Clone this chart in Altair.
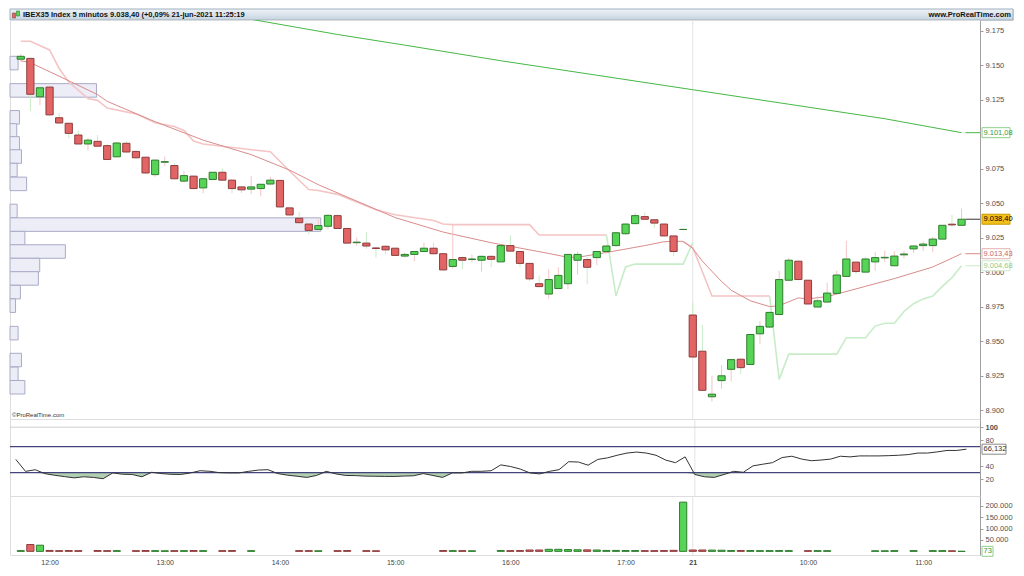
import json
import altair as alt
import pandas as pd

FONT = "Liberation Sans"

# ---------------- data ----------------
bar_index = list(range(99))
opens = [9154.3, 9154.9, 9127.1, 9134.1, 9111.9, 9107.9, 9099.4, 9092.9, 9094.8, 9091.7,
         9083.6, 9093.4, 9087.5, 9083.3, 9070.7, 9079.7, 9077.3, 9066.0, 9069.6, 9061.1,
         9067.2, 9072.4, 9066.7, 9061.8, 9060.2, 9060.6, 9063.9, 9066.5, 9046.6, 9039.1,
         9034.9, 9031.0, 9033.3, 9041.0, 9031.7, 9021.4, 9021.1, 9017.6, 9018.8, 9017.4,
         9011.7, 9012.9, 9015.0, 9017.4, 9013.4, 9004.2, 9010.6, 9009.2, 9008.7, 9011.5,
         9007.5, 9019.3, 9015.0, 9006.4, 8991.7, 8984.2, 8988.2, 8991.7, 9008.7, 9009.2,
         9010.6, 9015.0, 9019.3, 9027.9, 9035.2, 9040.3, 9038.0, 9034.9, 9026.3, 9031.0,
         8969.0, 8942.8, 8909.8, 8921.5, 8929.7, 8937.0, 8933.2, 8955.4, 8960.3, 8969.4,
         8994.2, 9008.0, 8994.2, 8974.8, 8978.4, 8984.7, 8997.0, 9007.3, 9000.1, 9007.5,
         9010.4, 9004.7, 9012.6, 9016.9, 9019.3, 9019.3, 9024.0, 9034.8, 9034.0]
highs = [9158.2, 9155.3, 9133.8, 9134.5, 9115.4, 9108.3, 9102.7, 9097.1, 9099.4, 9092.9,
         9094.3, 9094.8, 9088.0, 9083.8, 9081.7, 9083.8, 9078.9, 9073.3, 9070.1, 9068.0,
         9072.6, 9075.2, 9067.0, 9062.4, 9069.6, 9064.1, 9069.1, 9067.0, 9047.0, 9043.8,
         9035.4, 9038.2, 9041.9, 9041.7, 9031.9, 9025.1, 9029.3, 9018.2, 9019.6, 9017.9,
         9014.3, 9015.4, 9021.4, 9021.4, 9013.6, 9034.3, 9011.5, 9012.9, 9012.2, 9012.2,
         9019.6, 9026.8, 9015.4, 9006.6, 8997.7, 9002.2, 9003.6, 9013.3, 9015.0, 9011.0,
         9015.4, 9019.6, 9029.1, 9035.4, 9043.1, 9043.3, 9038.5, 9035.4, 9026.6, 9031.0,
         8977.9, 8961.9, 8925.0, 8932.8, 8937.2, 8937.5, 8955.4, 8964.7, 8971.6, 9001.2,
         9010.3, 9008.4, 8994.7, 8982.6, 8992.4, 9001.2, 9022.8, 9007.7, 9010.8, 9014.6,
         9015.7, 9015.3, 9015.7, 9019.3, 9022.3, 9025.6, 9034.3, 9041.5, 9046.1]
lows = [9152.5, 9116.8, 9121.0, 9113.3, 9107.6, 9097.1, 9092.5, 9088.2, 9090.8, 9081.0,
        9083.1, 9086.6, 9082.4, 9071.2, 9069.1, 9077.0, 9067.3, 9064.9, 9059.9, 9057.1,
        9067.0, 9066.3, 9057.3, 9057.3, 9056.6, 9055.0, 9063.5, 9047.0, 9041.0, 9035.4,
        9027.5, 9030.5, 9031.2, 9031.2, 9020.7, 9019.3, 9016.9, 9010.6, 9012.9, 9011.5,
        9010.8, 9008.0, 9014.7, 9012.9, 9001.4, 9002.8, 9002.2, 9007.3, 9000.5, 9003.6,
        9007.3, 9015.0, 9003.6, 8993.5, 8989.1, 8980.7, 8987.7, 8987.7, 8998.2, 8991.2,
        9005.2, 9013.4, 9018.6, 9027.0, 9034.7, 9037.8, 9032.1, 9025.9, 9011.7, 9031.0,
        8938.2, 8914.0, 8906.3, 8915.6, 8921.0, 8926.2, 8933.0, 8947.9, 8959.6, 8968.7,
        8994.0, 8994.3, 8976.8, 8974.7, 8977.9, 8984.2, 8996.5, 8998.9, 8999.6, 9001.2,
        9007.5, 9004.5, 9010.1, 9013.9, 9015.3, 9014.6, 9023.8, 9032.6, 9033.7]
closes = [9156.4, 9128.9, 9133.6, 9114.0, 9108.1, 9100.6, 9092.9, 9095.7, 9091.3, 9081.7,
          9093.6, 9087.1, 9082.9, 9071.9, 9081.2, 9080.1, 9067.7, 9070.0, 9060.6, 9067.7,
          9072.4, 9066.7, 9060.6, 9059.7, 9061.8, 9063.7, 9066.7, 9047.3, 9041.5, 9035.9,
          9030.3, 9033.8, 9041.2, 9031.7, 9021.1, 9021.8, 9019.0, 9017.2, 9016.2, 9012.2,
          9012.9, 9015.0, 9017.4, 9013.4, 9001.7, 9009.2, 9008.7, 9009.6, 9011.5, 9009.4,
          9019.3, 9015.3, 9006.4, 8995.2, 8989.6, 8994.7, 8997.7, 9012.9, 9012.9, 9003.6,
          9015.0, 9019.0, 9028.6, 9034.9, 9041.0, 9038.4, 9035.6, 9026.3, 9015.0, 9031.0,
          8938.6, 8914.5, 8911.7, 8925.0, 8936.7, 8930.9, 8954.9, 8960.8, 8970.9, 8994.7,
          9008.7, 8994.7, 8977.0, 8979.3, 8984.9, 8998.0, 9009.6, 9000.5, 9009.6, 9010.6,
          9010.8, 9011.7, 9013.2, 9019.0, 9020.4, 9024.0, 9034.0, 9034.3, 9038.4]
volumes = [3000, 30000, 27000, 4000, 3000, 3500, 3000, 0, 3500, 3000,
           3000, 0, 3000, 3500, 3000, 2500, 3000, 3000, 3500, 3000,
           0, 3000, 3500, 0, 3000, 0, 0, 0, 0, 3000,
           3000, 2500, 0, 3000, 3500, 0, 3000, 2500, 0, 0,
           0, 0, 0, 0, 3500, 3000, 3000, 2500, 0, 0,
           3500, 3000, 3500, 6000, 6000, 9000, 9000, 8000, 7000, 6500,
           6000, 4000, 4000, 3500, 3500, 3000, 3000, 3500, 4500, 216000,
           6000, 6000, 5500, 5000, 3500, 3500, 3500, 3000, 3000, 3500,
           3000, 0, 3000, 3000, 3000, 0, 0, 0, 0, 2500,
           2500, 3000, 0, 3000, 0, 3000, 3000, 2500, 73]
rsi_values = [50.4, 32.0, 34.5, 28.5, 26.0, 24.0, 22.0, 23.7, 22.7, 20.7,
              29.6, 27.6, 27.2, 23.7, 30.6, 28.6, 27.5, 27.2, 29.6, 33.0,
              32.1, 30.0, 29.6, 29.6, 32.0, 34.0, 34.6, 28.6, 26.2, 24.5,
              22.7, 25.7, 32.1, 28.1, 25.7, 25.5, 24.7, 24.5, 24.3, 24.2,
              24.8, 25.2, 28.6, 25.7, 22.7, 29.6, 29.6, 32.1, 32.1, 33.0,
              42.0, 39.5, 35.6, 29.6, 28.1, 32.0, 34.6, 46.9, 46.4, 41.5,
              50.4, 52.8, 56.8, 60.2, 61.7, 60.2, 56.8, 49.4, 45.4, 54.3,
              27.2, 23.7, 22.7, 27.2, 32.1, 30.6, 40.5, 43.0, 45.4, 53.3,
              55.3, 51.0, 48.4, 49.4, 50.9, 55.3, 54.3, 55.8, 55.8, 55.8,
              56.2, 56.8, 57.8, 60.2, 60.2, 62.0, 64.2, 64.2, 66.132]

sma_long_idx = [24, 33, 40, 50, 60, 70, 80, 90, 98]
sma_long_val = [9183.2, 9172.2, 9164.5, 9153.2, 9142.7, 9132.2, 9121.7, 9111.2, 9101.08]

sma_mid_idx = [0, 1, 4, 8, 9, 14, 19, 24, 28, 31, 35, 39, 44, 49, 55, 57, 58, 61, 65, 67, 68, 69,
               70, 71, 73, 74, 76, 78, 79, 81, 82, 84, 85, 88, 91, 95, 98]
sma_mid_val = [9153.2, 9151.8, 9142.0, 9128.7, 9123.8, 9109.0, 9095.7, 9085.2, 9074.0, 9063.4,
               9051.5, 9039.6, 9029.1, 9021.4, 9013.6, 9010.8, 9010.8, 9014.3, 9019.3, 9022.1,
               9022.4, 9022.4, 9017.2, 9008.0, 8993.3, 8987.0, 8979.3, 8975.1, 8975.8, 8981.4,
               8980.7, 8982.4, 8984.2, 8989.8, 8995.4, 9003.8, 9013.43]

stop_a_idx = [0, 1, 3, 4, 5, 7, 8, 9, 12, 14, 16, 17, 18, 19, 25, 26, 28, 30, 31, 33, 35, 37,
              39, 43, 44, 45, 53, 54, 61]
stop_a_val = [9167.3, 9167.3, 9161.0, 9147.6, 9137.8, 9125.9, 9124.5, 9118.9, 9114.7, 9108.3,
              9105.5, 9102.7, 9095.0, 9092.9, 9088.0, 9087.3, 9073.3, 9059.9, 9059.2, 9056.4,
              9050.8, 9045.2, 9041.7, 9037.5, 9034.9, 9034.5, 9034.5, 9027.0, 9027.0]
stop_b_idx = [61, 62, 63, 64, 69, 70]
stop_b_val = [9027.0, 8982.8, 9003.8, 9005.9, 9005.9, 9021.4]
stop_c_idx = [69, 70, 72, 78]
stop_c_val = [9022.1, 9017.9, 8982.8, 8982.8]
stop_d_idx = [78, 79, 80, 85, 86, 88, 89, 90, 91, 92, 93, 94, 95, 96, 97, 98]
stop_d_val = [8982.8, 8922.4, 8940.7, 8940.7, 8952.6, 8952.6, 8961.0, 8963.1, 8963.1, 8971.6,
              8977.2, 8980.7, 8982.8, 8989.8, 8996.1, 9004.68]

profile_price = [9151.5, 9131.7, 9112.2, 9102.7, 9093.3, 9083.8, 9074.0, 9064.0, 9044.4, 9034.5,
                 9024.7, 9015.0, 9005.2, 8995.5, 8985.6, 8975.8, 8955.9, 8936.4, 8926.4, 8916.7]
profile_volume = [6, 64, 7, 5, 7, 8.5, 5.3, 12.3, 5.3, 230, 11, 41, 22, 21, 7.7, 4.1, 6, 8.5, 6, 11]

time_tick_idx = [3, 15, 27, 39, 51, 63, 70, 82, 94]
time_tick_lbl = ["12:00", "13:00", "14:00", "15:00", "16:00", "17:00", "21", "10:00", "11:00"]
price_ticks = [8900, 8925, 8950, 8975, 9000, 9025, 9050, 9075, 9125, 9150, 9175]
rsi_ticks = [20, 40, 80, 100]
vol_ticks = [50000, 100000, 150000, 200000]
day_start = 70

header_left = "IBEX35 Index 5 minutos 9.038,40 (+0,09% 21-jun-2021 11:25:19"
header_right = "www.ProRealTime.com"

# ---------------- layout / style ----------------
W = 970
HH, HP, HR, HV = 11, 399, 77, 59
GREEN_FILL, GREEN_EDGE, GREEN_WICK = "#55d455", "#2f7d2f", "#4a6e4a"
RED_FILL, RED_EDGE, RED_WICK = "#e36464", "#8e3d3d", "#7a4a4a"

xs = alt.Scale(domain=[-0.6, 99.4], nice=False, zero=False)
ps = alt.Scale(domain=[8893.7, 9182.7], nice=False, zero=False)
rs = alt.Scale(domain=[-5.9, 112.6], nice=False, zero=False)
vs = alt.Scale(domain=[-16000, 243000], nice=False, zero=False)

axis_style = dict(title=None, grid=False, domainColor="#a0a0a0", tickColor="#a0a0a0", tickSize=3,
                  labelFont=FONT, labelFontSize=7.5, labelColor="#505050", labelPadding=2,
                  labelOverlap=False, labelFlush=False)
dot_fmt = "replace(format(datum.value, ',.0f'), ',', '.')"
price_axis = alt.Axis(orient="right", values=price_ticks, labelExpr=dot_fmt, **axis_style)
rsi_axis = alt.Axis(orient="right", values=rsi_ticks,
                    labelFontWeight={"condition": {"test": "datum.value == 100", "value": "bold"}, "value": "normal"},
                    **axis_style)
vol_axis = alt.Axis(orient="right", values=vol_ticks, labelExpr=dot_fmt, **axis_style)
noX = alt.X("i:Q", scale=xs, axis=None)
time_axis = alt.Axis(orient="bottom", values=time_tick_idx,
                     labelExpr="%s[indexof(%s, datum.value)]" % (json.dumps(time_tick_lbl), json.dumps(time_tick_idx)),
                     title=None, grid=False, domain=False, ticks=False, labelFont=FONT, labelFontSize=7,
                     labelColor="#444444", labelPadding=3, labelOverlap=False, labelFlush=False,
                     labelFontWeight={"condition": {"test": "datum.value == %d" % day_start, "value": "bold"}, "value": "normal"})
timeX = alt.X("i:Q", scale=xs, axis=time_axis)

candles = pd.DataFrame({"i": bar_index, "o": opens, "h": highs, "l": lows, "c": closes, "v": volumes})
candles["dir"] = ["up" if c >= o else "down" for o, c in zip(opens, closes)]
dir_fill = alt.Scale(domain=["up", "down"], range=[GREEN_FILL, RED_FILL])
dir_edge = alt.Scale(domain=["up", "down"], range=[GREEN_EDGE, RED_EDGE])
dir_wick = alt.Scale(domain=["up", "down"], range=[GREEN_WICK, RED_WICK])


def tag(val, text, fill, stroke, tcolor, yscale, yaxis, width=28):
    df = pd.DataFrame({"v": [val], "t": [text]})
    base = alt.Chart(df)
    box = base.mark_rect(fill=fill, stroke=stroke, strokeWidth=1, yOffset=-5, y2Offset=5).encode(
        x=alt.value(W + 2), x2=alt.value(W + 2 + width),
        y=alt.Y("v:Q", scale=yscale, axis=yaxis), y2="v:Q")
    lab = base.mark_text(align="left", baseline="middle", font=FONT, fontSize=7.5, color=tcolor).encode(
        x=alt.value(W + 3.5), y=alt.Y("v:Q", scale=yscale, axis=yaxis), text="t:N")
    return [box, lab]


def connector(val, color):
    df = pd.DataFrame({"i": [bar_index[-1] + 0.4], "v": [val]})
    return alt.Chart(df).mark_rule(color=color, strokeWidth=1).encode(
        x=noX, x2=alt.value(W), y=alt.Y("v:Q", scale=ps, axis=price_axis))


# ---------------- header ----------------
hdr_df = pd.DataFrame({"l": [header_left], "r": [header_right]})
hdr_bg = alt.Chart(hdr_df).mark_rect(
    fill=alt.LinearGradient(gradient="linear", x1=0, y1=0, x2=0, y2=1,
                            stops=[alt.GradientStop(color="#eef3f7", offset=0),
                                   alt.GradientStop(color="#c6d4df", offset=1)]),
    stroke="#9fb0bf", strokeWidth=1).encode(
    x=alt.value(0), x2=alt.value(W + 33), y=alt.value(0), y2=alt.value(HH))
icon_r = alt.Chart(hdr_df).mark_rect(fill=RED_FILL, stroke=RED_EDGE, strokeWidth=0.6).encode(
    x=alt.value(2.5), x2=alt.value(5.5), y=alt.value(4), y2=alt.value(9))
icon_g = alt.Chart(hdr_df).mark_rect(fill=GREEN_FILL, stroke=GREEN_EDGE, strokeWidth=0.6).encode(
    x=alt.value(6.5), x2=alt.value(9.5), y=alt.value(2), y2=alt.value(7))
hdr_l = alt.Chart(hdr_df).mark_text(align="left", baseline="middle", font=FONT, fontSize=7.5,
                                    fontWeight="bold", color="#111111").encode(
    x=alt.value(13), y=alt.value(HH / 2 + 0.5), text="l:N")
hdr_r = alt.Chart(hdr_df).mark_text(align="right", baseline="middle", font=FONT, fontSize=7.5,
                                    fontWeight="bold", color="#111111").encode(
    x=alt.value(W + 31), y=alt.value(HH / 2 + 0.5), text="r:N")
header = alt.layer(hdr_bg, icon_r, icon_g, hdr_l, hdr_r).properties(width=W + 33, height=HH)

# ---------------- price panel ----------------
prof_df = pd.DataFrame({"p": profile_price, "pv": profile_volume})
prof = alt.Chart(prof_df).transform_calculate(
    lo="datum.p - 4.9", hi="datum.p + 4.9", z="0").mark_rect(
    fill="#ededf7", stroke="#a9abc6", strokeWidth=1).encode(
    x=alt.X("z:Q", scale=alt.Scale(domain=[0, 718], nice=False, zero=False), axis=None),
    x2="pv:Q",
    y=alt.Y("lo:Q", scale=ps, axis=price_axis), y2="hi:Q")

sep_df = pd.DataFrame({"i": [day_start]})
sep_price = alt.Chart(sep_df).mark_rule(color="#e3e3e3", strokeWidth=1).encode(x=noX)

long_df = pd.DataFrame({"i": sma_long_idx, "v": sma_long_val})
sma_long = alt.Chart(long_df).mark_line(color="#45b845", strokeWidth=1, clip=True).encode(
    x=noX, y=alt.Y("v:Q", scale=ps, axis=price_axis))

rows = []
for seg, kind, ii, vv in [("a", "pink", stop_a_idx, stop_a_val), ("b", "green", stop_b_idx, stop_b_val),
                          ("c", "pink", stop_c_idx, stop_c_val), ("d", "green", stop_d_idx, stop_d_val)]:
    for a, b in zip(ii, vv):
        rows.append({"seg": seg, "kind": kind, "i": a, "v": b})
stop_df = pd.DataFrame(rows)
stop_line = alt.Chart(stop_df).mark_line(strokeWidth=1.6, clip=True).encode(
    x=noX, y=alt.Y("v:Q", scale=ps, axis=price_axis), detail="seg:N",
    color=alt.Color("kind:N", scale=alt.Scale(domain=["pink", "green"], range=["#f5c4c4", "#c8ecc8"]), legend=None))

mid_df = pd.DataFrame({"i": sma_mid_idx, "v": sma_mid_val})
sma_mid = alt.Chart(mid_df).mark_line(color="#d98c8c", strokeWidth=1, clip=True).encode(
    x=noX, y=alt.Y("v:Q", scale=ps, axis=price_axis))

wicks = alt.Chart(candles).mark_rule(strokeWidth=1, clip=True).encode(
    x=noX, y=alt.Y("l:Q", scale=ps, axis=price_axis), y2="h:Q",
    color=alt.Color("dir:N", scale=dir_wick, legend=None))
bodies = alt.Chart(candles).mark_bar(width=7.2, strokeWidth=1, clip=True).encode(
    x=noX, y=alt.Y("o:Q", scale=ps, axis=price_axis), y2="c:Q",
    fill=alt.Fill("dir:N", scale=dir_fill, legend=None),
    stroke=alt.Stroke("dir:N", scale=dir_edge, legend=None))

copy_df = pd.DataFrame({"t": ["\u00a9ProRealTime.com"]})
copyright = alt.Chart(copy_df).mark_text(align="left", baseline="middle", font=FONT, fontSize=6,
                                         color="#333333").encode(
    x=alt.value(2), y=alt.value(HP - 4), text="t:N")

price_tags = (tag(sma_long_val[-1], "9.101,08", "#ffffff", "#8fcf8f", "#3a9a3a", ps, price_axis)
              + tag(closes[-1], "9.038,40", "#f2c21b", "#c89a00", "#000000", ps, price_axis)
              + tag(sma_mid_val[-1], "9.013,43", "#ffffff", "#e6b0b0", "#c46a6a", ps, price_axis)
              + tag(stop_d_val[-1], "9.004,68", "#ffffff", "#cbe8cb", "#8ccc8c", ps, price_axis))

inner = alt.layer(sep_price, sma_long, stop_line, sma_mid,
                  connector(sma_long_val[-1], "#45b845"), connector(closes[-1], "#333333"),
                  connector(sma_mid_val[-1], "#d98c8c"), connector(stop_d_val[-1], "#c8ecc8"),
                  wicks, bodies, *price_tags, copyright)
price = alt.layer(prof, inner).resolve_scale(x="independent").properties(width=W, height=HP)

# ---------------- RSI panel ----------------
rsi_df = pd.DataFrame({"i": bar_index, "r": rsi_values})
sep_rsi = alt.Chart(sep_df).mark_rule(color="#e3e3e3", strokeWidth=1).encode(x=noX)
lvl100 = alt.Chart(pd.DataFrame({"lv": [100]})).mark_rule(color="#cfcfcf", strokeWidth=1).encode(
    y=alt.Y("lv:Q", scale=rs, axis=rsi_axis))
lvls = alt.Chart(pd.DataFrame({"lv": [70, 30]})).mark_rule(color="#44447c", strokeWidth=1.2).encode(
    y=alt.Y("lv:Q", scale=rs, axis=rsi_axis))
rsi_fill = alt.Chart(rsi_df).transform_calculate(lo="min(datum.r, 30)").mark_area(
    color="#a9caa9", opacity=0.9).encode(
    x=noX, y=alt.Y("lo:Q", scale=rs, axis=rsi_axis), y2=alt.Y2(datum=30))
rsi_line = alt.Chart(rsi_df).mark_line(color="#333333", strokeWidth=1).encode(
    x=noX, y=alt.Y("r:Q", scale=rs, axis=rsi_axis))
rsi_tags = tag(rsi_values[-1], "66,132", "#ffffff", "#8a8a8a", "#333333", rs, rsi_axis, width=24)
rsi = alt.layer(sep_rsi, lvl100, rsi_fill, lvls, rsi_line, *rsi_tags).properties(width=W, height=HR)

# ---------------- volume panel ----------------
sep_vol = alt.Chart(sep_df).mark_rule(color="#e3e3e3", strokeWidth=1).encode(x=timeX)
vol_bars = alt.Chart(candles).transform_filter("datum.v > 0").mark_bar(width=7.2, strokeWidth=1).encode(
    x=timeX, y=alt.Y("v:Q", scale=vs, axis=vol_axis), y2=alt.Y2(datum=0),
    fill=alt.Fill("dir:N", scale=dir_fill, legend=None),
    stroke=alt.Stroke("dir:N", scale=dir_edge, legend=None))
vol_tags = tag(volumes[-1], "73", "#ffffff", "#8fcf8f", "#3a9a3a", vs, vol_axis, width=11)
vol = alt.layer(sep_vol, vol_bars, *vol_tags).properties(width=W, height=HV)

chart = alt.vconcat(header, price, rsi, vol, spacing=0, bounds="flush").properties(
    padding={"left": 0, "top": 0, "right": 0, "bottom": 0}
).configure_view(stroke="#b8b8b8", strokeWidth=1).configure(font=FONT)

chart.save("out.html", embed_options={"renderer": "svg", "actions": False})
